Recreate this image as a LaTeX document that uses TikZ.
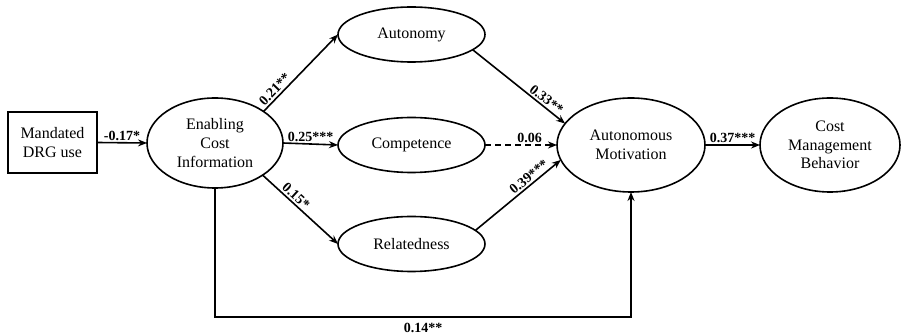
\documentclass[tikz,border=0pt]{standalone}
\usepackage{fontspec}
\setmainfont{Liberation Serif}
\usetikzlibrary{shapes.geometric,arrows.meta}
\begin{document}
\begin{tikzpicture}[x=1pt,y=-1pt,
  every node/.style={inner sep=0pt, outer sep=0pt},
  lat/.style={ellipse, draw, line width=1.6pt, align=center,
    font=\fontsize{16}{18.6}\selectfont},
  obs/.style={rectangle, draw, line width=1.6pt, align=center,
    minimum width=89pt, minimum height=61pt,
    font=\fontsize{16}{18.6}\selectfont},
  path/.style={line width=1.6pt, -{Stealth[length=9pt,width=7pt]}},
  coef/.style={font=\fontsize{14}{16}\bfseries\selectfont, inner sep=2.5pt}]
\useasboundingbox (0,0) rectangle (903,336);

% observed predictor
\node[obs] (drg) at (52.5,142.5) {Mandated\\DRG use};

% latent constructs
\node[lat, minimum width=136pt, minimum height=90pt] (eci) at (215,143) {Enabling\\Cost\\Information};
\node[lat, minimum width=147pt, minimum height=55pt] (aut) at (411.5,34.5) {Autonomy};
\node[lat, minimum width=147pt, minimum height=55pt] (com) at (411.5,145) {Competence};
\node[lat, minimum width=147pt, minimum height=55pt] (rel) at (411.5,244) {Relatedness};
\node[lat, minimum width=148pt, minimum height=94pt] (amo) at (631,145) {Autonomous\\Motivation};
\node[lat, minimum width=140pt, minimum height=94pt] (cmb) at (830,145) {Cost\\Management\\Behavior};

\coordinate (low) at (0,317);

% structural paths
\draw[path] (drg.east) -- node[coef, above] {-0.17*} (eci.west);
\draw[path] (eci.33) -- node[coef, sloped, above, pos=0.22] {0.21**} (aut.west);
\draw[path] (eci.east) -- node[coef, above] {0.25***} (com.west);
\draw[path] (eci.-34) -- node[coef, sloped, above, pos=0.38] {0.15*} (rel.west);
\draw[path] (aut.-14) -- node[coef, sloped, above, pos=0.75] {0.33**} (amo.162);
\draw[path, dashed, dash pattern=on 6pt off 4pt] (com.east) -- node[coef, above, pos=0.62] {0.06} (amo.west);
\draw[path] (rel.12) -- node[coef, sloped, above, pos=0.68] {0.39***} (amo.192);
\draw[path] (amo.east) -- node[coef, above] {0.37***} (cmb.west);
\draw[path] (eci.south) -- (eci.south |- low) -- node[coef, below, inner sep=6pt] {0.14**} (amo.south |- low) -- (amo.south);
\end{tikzpicture}
\end{document}
